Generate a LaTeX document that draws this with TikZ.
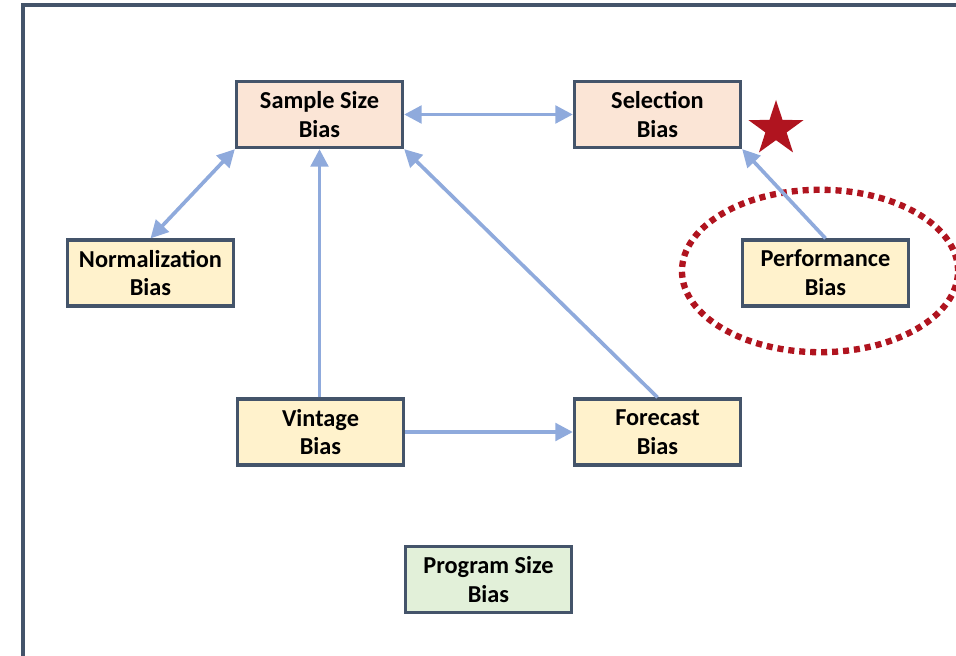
\documentclass[tikz,border=0pt]{standalone}
\usepackage{fontspec}
\setmainfont{Carlito}
\usetikzlibrary{arrows.meta,shapes.geometric}

\begin{document}
\begin{tikzpicture}
		[x=0.025cm,y=-0.025cm,line cap=round,
		%Styles
		frame line/.style={draw=framecolor,line width=2.6pt,line cap=butt,line join=miter},
		main node/.style={rectangle,draw=framecolor,line width=2.3pt,minimum width=4.15cm,minimum height=1.65cm,
			inner sep=0pt,align=center,font=\fontsize{17.3}{20.5}\selectfont\bfseries},
		peach node/.style={main node,fill=peach},
		yellow node/.style={main node,fill=lightyellow},
		green node/.style={main node,fill=lightgreen},
		link/.style={draw=linkblue,line width=2.6pt,line cap=butt,-{Triangle[length=12.5pt,width=12.5pt]}},
		both link/.style={link,{Triangle[length=12.5pt,width=12.5pt]}-{Triangle[length=12.5pt,width=12.5pt]}},
		ring/.style={draw=darkred,line width=4.5pt,line cap=butt,dash pattern=on 4.3pt off 3.5pt}
		]
		
		%Colors
		\definecolor{framecolor}{HTML}{44546A}
		\definecolor{peach}{HTML}{FBE5D6}
		\definecolor{lightyellow}{HTML}{FFF2CC}
		\definecolor{lightgreen}{HTML}{E2F0D9}
		\definecolor{linkblue}{HTML}{8FAADC}
		\definecolor{darkred}{HTML}{B0141F}
		
		\useasboundingbox (0,0) rectangle (956,656);
		\clip (0,0) rectangle (956,656);
		
		%The frame
		\draw[frame line] (23,670) -- (23,5) -- (970,5);
		
		%The graphic
		\node[peach node] (sample) at (319.5,114.5) {Sample Size\\Bias};
		\node[peach node] (sel) at (657.5,114.5) {Selection\\Bias};
		\node[yellow node] (norm) at (150.5,273) {Normalization\\Bias};
		\node[yellow node] (perf) at (825.5,273) {Performance\\Bias};
		\node[yellow node] (vint) at (320.5,432) {Vintage\\Bias};
		\node[yellow node] (fore) at (657.5,432) {Forecast\\Bias};
		\node[green node] (prog) at (488.5,579.5) {Program Size\\Bias};
		
		\node[star,star points=5,star point ratio=2.6,fill=darkred,minimum size=1.45cm,inner sep=0pt] (mark1) at (776,129) {};
		\draw[ring] (820,271) ellipse [x radius=3.45cm,y radius=2.03cm];
		
		\path[both link] (sample) -- (sel);
		\path[both link] (sample.south west) -- (norm.north);
		\path[link] (vint.north -| sample) -- (sample.south);
		\path[link] (fore.north) -- (sample.south east);
		\path[link] (vint) -- (fore);
		\path[link] (perf.north) -- (sel.south east);
	\end{tikzpicture}
\end{document}
